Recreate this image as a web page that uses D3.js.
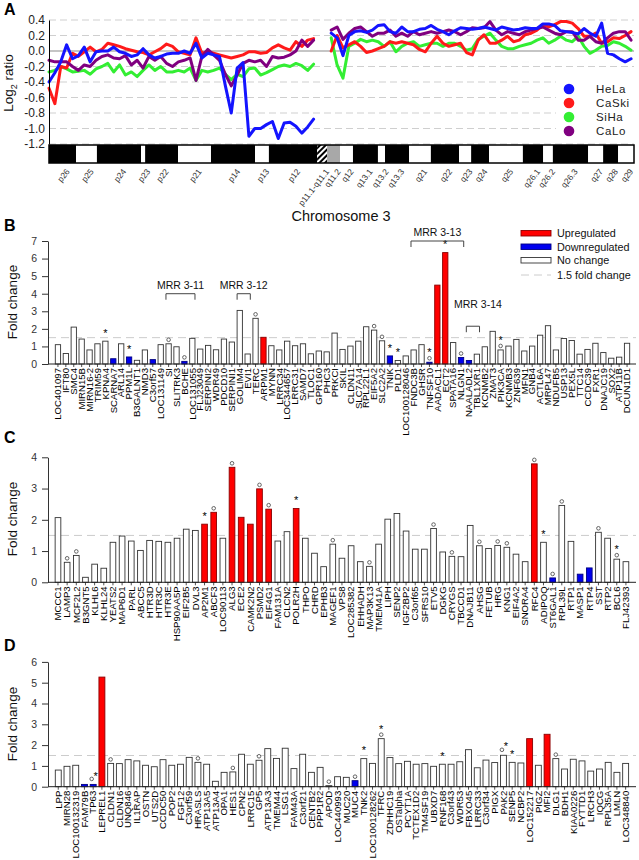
<!DOCTYPE html>
<html><head><meta charset="utf-8">
<script src="https://cdn.jsdelivr.net/npm/d3@7"></script>
<style>body{margin:0;background:#fff;}</style>
</head><body><script>
// ---------------- DATA ----------------
// Panel A: chromosome 3 array CGH, positions in Mb
const posMb = [0,2,4,6,8,10,12,14,16,18,20,22,24,26,28,30,32,34,36,38,40,42,44,46,48,50,52,54,56,58,60,62,64,66,68,70,72,74,76,78,80,82,84,86,88,90,92,94,96,98,100,102,104,106,108,110,112,114,116,118,120,122,124,126,128,130,132,134,136,138,140,142,144,146,148,150,152,154,156,158,160,162,164,166,168,170,172,174,176,178,180,182,184,186,188,190,192,194,196,198];
const hela = [-0.40,-0.28,-0.14,0.08,-0.10,-0.06,0.05,-0.14,-0.01,0.00,0.00,0.05,-0.01,-0.03,-0.07,-0.05,0.03,-0.05,-0.09,-0.07,-0.04,-0.03,-0.03,0.00,-0.03,0.10,-0.09,-0.03,-0.05,-0.07,-0.45,-0.80,-0.22,-0.15,-1.10,-1.00,-1.00,-0.95,-0.91,-1.13,-0.93,-0.92,-0.97,-1.06,-0.98,-0.88,null,null,0.23,0.17,-0.06,0.20,0.25,0.26,0.24,0.27,0.33,0.34,0.25,0.23,0.31,0.25,0.25,0.28,0.29,0.33,0.28,0.25,0.21,0.26,0.30,0.29,0.28,0.29,0.31,0.29,0.27,0.31,0.29,0.27,0.28,0.30,0.29,0.29,0.35,0.35,0.33,0.26,0.25,0.24,0.22,0.29,0.23,0.19,0.36,-0.03,-0.05,-0.10,-0.14,-0.10];
const caski = [-0.48,-0.68,-0.20,-0.22,-0.03,-0.07,-0.01,0.05,-0.01,0.02,0.10,0.08,0.06,0.03,0.01,-0.01,-0.02,-0.05,-0.01,0.03,0.09,0.06,-0.01,-0.03,-0.05,0.17,-0.03,-0.01,-0.03,-0.05,-0.07,-0.09,-0.07,-0.05,-0.01,-0.01,-0.03,-0.02,0.04,0.08,0.04,0.01,0.12,0.06,0.14,0.16,null,null,0.00,0.20,0.04,0.08,0.12,0.06,-0.02,0.00,0.03,0.06,0.12,0.10,0.12,0.10,0.08,0.02,-0.01,0.10,0.19,0.10,0.06,0.08,0.10,-0.02,-0.05,0.14,0.21,0.10,0.10,0.14,0.19,0.12,0.14,0.21,0.23,0.27,0.34,0.31,0.34,0.38,0.38,0.36,0.29,0.19,0.19,0.23,0.10,0.12,0.17,0.16,0.20,0.25];
const siha = [-0.27,-0.25,-0.20,-0.23,-0.27,-0.26,-0.25,-0.30,-0.23,-0.20,-0.16,-0.27,-0.18,-0.31,-0.27,-0.33,-0.25,-0.18,-0.25,-0.20,-0.27,-0.27,-0.25,-0.27,-0.22,-0.38,-0.25,-0.27,-0.25,-0.22,-0.30,-0.37,-0.30,-0.33,-0.23,-0.22,-0.31,-0.28,-0.24,-0.20,-0.18,-0.20,-0.16,-0.19,-0.25,-0.17,null,null,0.17,-0.18,-0.35,0.06,0.10,0.15,0.12,0.14,0.12,0.06,0.12,-0.01,0.06,0.10,0.12,0.06,0.08,0.10,0.10,0.06,0.10,0.10,0.06,0.01,0.03,0.15,0.19,0.23,0.14,0.06,0.03,0.03,0.06,0.08,0.10,0.14,0.17,0.10,0.14,0.19,0.14,0.12,0.19,0.06,-0.03,0.01,0.06,0.07,0.12,0.10,0.06,0.01];
const calo = [-0.12,-0.14,-0.14,-0.14,-0.20,-0.25,-0.18,-0.20,-0.12,-0.07,-0.05,-0.09,-0.10,-0.06,-0.18,-0.12,-0.22,-0.07,-0.12,-0.07,-0.16,-0.20,-0.14,-0.12,-0.09,-0.38,-0.07,0.02,-0.05,-0.12,-0.30,-0.45,-0.31,-0.16,-0.12,-0.14,-0.12,-0.20,-0.07,-0.09,-0.08,-0.05,0.00,0.14,0.06,0.14,null,null,0.27,0.31,0.15,0.23,0.29,0.31,0.25,0.19,0.23,0.23,0.27,0.19,0.23,0.19,0.25,0.21,0.23,0.25,0.23,0.25,0.27,0.25,0.21,0.25,0.30,0.29,0.30,0.38,0.27,0.21,0.25,0.23,0.21,0.25,0.27,0.29,0.31,0.27,0.23,0.21,0.25,0.25,0.14,0.14,0.19,0.12,0.10,0.17,0.23,0.25,0.25,0.14];
const cellLines = ["HeLa","CaSki","SiHa","CaLo"];
const ticksA = [0.4,0.2,0,-0.2,-0.4,-0.6,-0.8,-1.0,-1.2];
const bandNames = ["p26","p25","p24","p23","p22","p21","p14","p13","p12","p11.1-q11.1","q11.2","q12","q13.1","q13.2","q13.3","q21","q22","q23","q24","q25","q26.1","q26.2","q26.3","q27","q28","q29"];
const bandStart = [0,9.2,16.3,31.3,32.7,43.9,55.1,70.1,74.8,91.2,94.6,99.0,103.4,111.9,114.3,122.5,129.9,139.5,143.6,149.7,161.2,168.1,171.4,183.4,188.5,193.6];
const bandEnd   = [9.2,16.3,31.3,32.7,43.9,55.1,70.1,74.8,91.2,94.6,99.0,103.4,111.9,114.3,122.5,129.9,139.5,143.6,149.7,161.2,168.1,171.4,183.4,188.5,193.6,199];
const bandStain = ["gpos","gneg","gpos","gneg","gpos","gneg","gpos","gneg","gpos","acen","gvar","gneg","gpos","gneg","gpos","gneg","gpos","gneg","gpos","gneg","gpos","gneg","gpos","gneg","gpos","gneg"];

// Panel B
const genesB = ["LOC401097","IFT80","SMC4","MIRN15B","MIRN16-2","TRIM59","KPNA4","SCARNA7","ARL14","PPM1L","B3GALNT1","NMD3","C3orf57","LOC131149","SI","SLITRK3","BCHE","LOC131055","FLJ23049","SERPINI2","WDR49","PDCD10","SERPINI1","GOLIM4","EVI1","TERC","ARPM1","MYNN","LRRC34","LOC344657","LRRC31","SAMD7","TLOC1","GPR160","PHC3","PRKCI","SKIL","CLDN11","SLC7A14","RPL22L1","EIF5A2","SLC2A2","TNIK","PLD1","LOC100128046","FNDC3B","GHSR","TNFSF10","AADACL1","ECT2","SPATA16","NLGN1","NAALADL2","TBL1XR1","KCNMB2","ZMAT3","PIK3CA","KCNMB3","ZNF639","MFN1","GNB4","ACTL6A","MRPL47","NDUFB5","USP13","PEX5L","TTC14","CCDC39","FXR1","DNAJC19","SOX2","ATP11B","DCUN1D1"];
const foldB = [1.1,0.6,2.1,1.42,0.8,1.15,1.3,0.3,1.15,0.4,0.21,0.8,0.25,1.1,1.15,0.98,0.15,1.46,0.85,1.06,0.81,1.42,1.25,3.05,0.57,2.6,1.52,1.04,0.8,1.3,1.04,1.15,0.58,0.74,0.69,1.76,0.83,1.02,1.3,2.12,1.93,1.32,0.46,0.2,0.46,0.8,1.1,0.1,4.49,6.34,1.22,0.37,0.2,0.56,0.98,1.86,0.8,1.02,1.4,0.74,1.02,1.64,2.18,0.8,1.45,1.34,0.56,0.83,1.18,0.65,0.33,0.39,1.18];
const upB = ["ARPM1","AADACL1","ECT2"];
const downB = ["SCARNA7","PPM1L","C3orf57","BCHE","TNIK","TNFSF10","NLGN1","NAALADL2"];
const marksB = [["KPNA4","*"],["PPM1L","*"],["SI","o"],["BCHE","o"],["TERC","o"],["EIF5A2","o"],["SLC2A2","o"],["TNIK","*"],["PLD1","*"],["TNFSF10","o*"],["ECT2","*"],["NLGN1","o"],["PIK3CA","o*"]];
const mrrB = [["MRR 3-11","SI","LOC131055",4.0,0],["MRR 3-12","GOLIM4","EVI1",4.0,0],["MRR 3-13","FNDC3B","NLGN1",7.0,0],["MRR 3-14","NAALADL2","TBL1XR1",2.15,-13]];
const ticksB = [0,1,2,3,4,5,6,7];

// Panel C
const genesC = ["MCCC1","LAMP3","MCF2L2","B3GNT5","KLHL6","KLHL24","YEATS2","MAP6D1","PARL","ABCC5","HTR3D","HTR3C","HTR3E","HSP90AA5P","EIF2B5","DVL3","AP2M1","ABCF3","LOC90113","ALG3","ECE2","CAMK2N2","PSMD2","EIF4G1","FAM131A","CLCN2","POLR2H","THPO","CHRD","EPHB3","MAGEF1","VPS8","LOC285382","EHHADH","MAP3K13","TMEM41A","LIPH","SENP2","IGF2BP2","C3orf65","SFRS10","ETV5","DGKG","CRYGS","TBCCD1","DNAJB11","AHSG","FETUB","HRG","KNG1","EIF4A2","SNORA4","RFC4","ADIPOQ","ST6GAL1","RPL39L","RTP1","MASP1","RTP4","SST","RTP2","BCL6","FLJ42393"];
const foldC = [2.07,0.64,0.86,0.16,0.58,0.45,1.28,1.48,1.32,1.02,1.34,1.31,1.28,1.41,1.70,1.66,1.86,2.24,1.41,3.68,2.08,1.86,2.99,2.34,1.32,1.62,2.36,1.41,0.93,0.50,1.22,0.77,1.17,0.66,0.51,1.22,2.02,2.20,1.64,1.06,1.06,1.72,0.97,0.83,0.82,1.82,1.17,1.08,1.18,1.12,0.90,0.66,3.79,1.28,0.14,2.46,1.31,0.26,0.46,1.60,1.41,0.74,0.66];
const upC = ["AP2M1","ABCF3","ALG3","ECE2","CAMK2N2","PSMD2","EIF4G1","POLR2H","RFC4"];
const downC = ["ST6GAL1","MASP1","RTP4"];
const marksC = [["LAMP3","o"],["MCF2L2","o"],["AP2M1","*"],["ABCF3","o"],["ALG3","o"],["PSMD2","o"],["EIF4G1","o"],["POLR2H","*"],["MAGEF1","o"],["MAP3K13","o"],["ETV5","o"],["CRYGS","o"],["AHSG","o"],["HRG","o"],["KNG1","o"],["RFC4","o"],["ADIPOQ","*"],["ST6GAL1","o"],["RPL39L","o"],["SST","o"],["BCL6","o*"]];
const ticksC = [0,1,2,3,4];

// Panel D
const genesD = ["LPP","MIRN28","LOC100132319","FAM79B","TP63","LEPREL1","CLDN1","CLDN16","UNQ846","IL1RAP","OSTN","UTS2D","CCDC50","POP2","FGF12","C3orf59","HRASLS","ATP13A5","ATP13A4","OPA1","HES1","CPN2","LRRC15","GP5","ATP13A3","TMEM44","LSG1","FAM43A","C3orf21","CENTB2","PPP1R2","APOD","LOC440993","MUC20","MUC4","TNK2","LOC100128262","TFRC","ZDHHC19","OSTalpha","PCYT1A","TCTEX1D2","TM4SF19","UBXD7","RNF168","C3orf43","WDR53","FBXO45","LRRC33","C3orf34","PIGX","PAK2","SENP5","NCBP2","LOC152217","PIGZ","MFI2","DLG1","BDH1","KIAA0226","FYTTD1","LRCH3","IQCG","RPL35A","LMLN","LOC348840"];
const foldD = [0.80,0.98,1.03,0.11,0.11,5.27,1.12,1.11,1.30,1.24,1.03,0.96,1.30,1.03,1.08,1.41,1.17,1.08,0.26,0.69,0.71,1.56,1.08,1.27,1.83,1.36,1.85,0.87,1.56,0.69,0.93,0.05,0.48,0.45,0.29,1.35,1.12,2.31,1.40,1.11,1.22,1.08,1.11,0.98,1.08,1.08,1.20,1.78,0.91,1.28,1.16,1.51,1.17,1.14,2.31,1.03,2.52,1.35,0.85,1.32,1.24,0.75,0.85,1.17,0.69,1.12];
const upD = ["LEPREL1","LOC152217","MFI2"];
const downD = ["FAM79B","TP63","MUC4"];
const marksD = [["TP63","o|*"],["CLDN1","o"],["HRASLS","o"],["HES1","o"],["GP5","o"],["APOD","o"],["MUC4","o"],["TNK2","*"],["TFRC","o*"],["RNF168","*"],["PAK2","o|*"],["SENP5","*"],["DLG1","o"]];
const ticksD = [0,1,2,3,4,5,6];

const legendB = ["Upregulated","Downregulated","No change","1.5 fold change"];

// ---------------- DRAWING ----------------
const FONT = '"Liberation Sans", Arial, Helvetica, sans-serif';
const svg = d3.select("body").append("svg").attr("width",639).attr("height",860)
  .style("font-family",FONT);
svg.append("rect").attr("width",639).attr("height",860).attr("fill","#fff");
const defs = svg.append("defs");
const pat = defs.append("pattern").attr("id","hatch").attr("patternUnits","userSpaceOnUse")
  .attr("width",4).attr("height",4).attr("patternTransform","rotate(45)");
pat.append("rect").attr("width",4).attr("height",4).attr("fill","#fff");
pat.append("rect").attr("width",2).attr("height",4).attr("fill","#000");

const lineColors = {HeLa:"#1414ff",CaSki:"#ff1a1a",SiHa:"#33ee33",CaLo:"#800080"};
const seriesVals = {HeLa:hela,CaSki:caski,SiHa:siha,CaLo:calo};

// ---- Panel A ----
const xA = d3.scaleLinear().domain([0,199]).range([49,634]);
const yA = d3.scaleLinear().domain([-1.2,0.4]).range([144,20]);
const gA = svg.append("g");
gA.selectAll("line.grid").data(ticksA.filter(t=>t!==0)).join("line")
  .attr("x1",49).attr("x2",634).attr("y1",d=>yA(d)).attr("y2",d=>yA(d))
  .attr("stroke","#cfcfcf").attr("stroke-width",1).attr("stroke-dasharray","7,4");
gA.append("line").attr("x1",49).attr("x2",634).attr("y1",yA(0)).attr("y2",yA(0))
  .attr("stroke","#8c8c8c").attr("stroke-width",1.2);

const lineGen = d3.line().defined(d=>d[1]!==null).x(d=>xA(d[0])).y(d=>yA(d[1])).curve(d3.curveLinear);
["SiHa","CaSki","CaLo","HeLa"].forEach(name=>{
  const pts = posMb.map((p,i)=>[p,seriesVals[name][i]]);
  gA.append("path").datum(pts).attr("d",lineGen).attr("fill","none")
    .attr("stroke",lineColors[name]).attr("stroke-width",3)
    .attr("stroke-linejoin","round").attr("stroke-linecap","round");
});

// legend A
gA.append("rect").attr("x",556).attr("y",78).attr("width",78).attr("height",64).attr("fill","#fff");
cellLines.forEach((n,i)=>{
  const cy = 89 + i*14;
  gA.append("circle").attr("cx",569).attr("cy",cy).attr("r",5.3).attr("fill",lineColors[n]);
  gA.append("text").attr("x",596).attr("y",cy+4).attr("font-size",11.5).attr("fill","#222")
    .attr("letter-spacing","0.6").text(n);
});

// axis A
const axA = gA.append("g").attr("transform","translate(49,0)")
  .call(d3.axisLeft(yA).tickValues(ticksA).tickSize(0).tickSizeOuter(0).tickPadding(4).tickFormat(d=>d.toFixed(1)));
axA.selectAll("text").attr("font-size",12).attr("font-family",FONT).attr("fill","#222");
axA.select(".domain").attr("stroke","#000");
gA.append("text").attr("transform","translate(13,83) rotate(-90)").attr("text-anchor","middle")
  .attr("font-size",13.5).attr("fill","#111")
  .call(t=>{t.append("tspan").text("Log");t.append("tspan").attr("font-size",9).attr("dy",4).text("2");t.append("tspan").attr("dy",-4).text(" ratio");});
svg.append("text").attr("x",4).attr("y",15).attr("font-size",16).attr("font-weight","bold").text("A");

// ideogram
const bands = bandNames.map((n,i)=>({name:n,s:bandStart[i],e:bandEnd[i],stain:bandStain[i]}));
const stainFill = {gpos:"#000",gneg:"#fff",gvar:"#a8a8a8",acen:"url(#hatch)"};
gA.selectAll("rect.band").data(bands).join("rect")
  .attr("x",d=>xA(d.s)).attr("width",d=>xA(d.e)-xA(d.s)).attr("y",145).attr("height",18)
  .attr("fill",d=>stainFill[d.stain]);
gA.append("rect").attr("x",xA(0)).attr("y",145).attr("width",xA(199)-xA(0)).attr("height",18)
  .attr("fill","none").attr("stroke","#000").attr("stroke-width",1.5);
gA.selectAll("text.bl").data(bands).join("text")
  .attr("transform",d=>`translate(${xA((d.s+d.e)/2)+3},168) rotate(-52)`)
  .attr("text-anchor","end").attr("dy","0.7em").attr("font-size",8.5).attr("fill","#333").text(d=>d.name);

// ---- bar panels ----
const colUp="#ff0000", colDown="#0000ee";
function barPanel(o){
  const g = svg.append("g");
  const x = d3.scaleBand().domain(o.genes).range(o.xr).paddingInner(o.pad).paddingOuter(o.pad/2);
  const y = d3.scaleLinear().domain([0,o.ymax]).range([o.y0,o.ytop]);
  const bw = x.bandwidth();
  const vmap = new Map(o.genes.map((gname,i)=>[gname,o.vals[i]]));
  g.append("line").attr("x1",48).attr("x2",636).attr("y1",y(1.5)).attr("y2",y(1.5))
    .attr("stroke","#cccccc").attr("stroke-width",1).attr("stroke-dasharray","8,5");
  g.selectAll("rect.bar").data(o.genes).join("rect")
    .attr("x",d=>x(d)).attr("width",bw)
    .attr("y",d=>y(vmap.get(d))).attr("height",d=>o.y0-y(vmap.get(d)))
    .attr("fill",d=>o.up.includes(d)?colUp:(o.down.includes(d)?colDown:"#fff"))
    .attr("stroke",d=>o.up.includes(d)?"#8a0000":(o.down.includes(d)?"#000080":"#333"))
    .attr("stroke-width",0.9);
  g.append("line").attr("x1",48).attr("x2",636).attr("y1",o.y0).attr("y2",o.y0).attr("stroke","#222").attr("stroke-width",1);
  g.selectAll("line.xt").data(o.genes).join("line")
    .attr("x1",d=>x(d)+bw/2).attr("x2",d=>x(d)+bw/2).attr("y1",o.y0).attr("y2",o.y0+3)
    .attr("stroke","#222").attr("stroke-width",0.8);
  g.selectAll("text.xl").data(o.genes).join("text")
    .attr("transform",d=>`translate(${x(d)+bw/2},${o.y0+4}) rotate(-90)`)
    .attr("text-anchor","end").attr("dy","0.34em").attr("font-size",9.6).attr("fill","#000").text(d=>d);
  const ay = g.append("g").attr("transform","translate(48,0)")
    .call(d3.axisLeft(y).tickValues(o.ticks).tickSize(6).tickSizeOuter(0).tickPadding(5).tickFormat(d3.format("d")));
  ay.selectAll("text").attr("font-size",10.5).attr("font-family",FONT).attr("fill","#333");
  ay.selectAll("line").attr("stroke","#333");
  ay.select(".domain").attr("stroke","#333");
  g.append("text").attr("transform",`translate(17,${o.labelY}) rotate(-90)`).attr("text-anchor","middle")
    .attr("font-size",13.5).attr("fill","#111").text("Fold change");
  svg.append("text").attr("x",4).attr("y",o.letterY).attr("font-size",16).attr("font-weight","bold").text(o.letter);
  o.marks.forEach(([gname,type])=>{
    const cx = x(gname)+bw/2, top = y(vmap.get(gname));
    const circ = (cxx,cyy)=>g.append("circle").attr("cx",cxx).attr("cy",cyy).attr("r",1.8)
      .attr("fill","#fff").attr("stroke","#555").attr("stroke-width",0.9);
    const star = (sx,cyy)=>g.append("text").attr("x",sx).attr("y",cyy+5.2).attr("text-anchor","middle")
      .attr("font-size",11).attr("fill","#000").text("*");
    if(type==="o") circ(cx,top-4);
    else if(type==="*") star(cx,top-9.5);
    else if(type==="o*"){ circ(cx,top-4); star(cx,top-11); }
    else if(type==="o|*"){ circ(cx-1.5,top-5.5); star(cx+2.5,top-10); }
  });
  return {g,x,y,bw};
}

const pB = barPanel({genes:genesB,vals:foldB,up:upB,down:downB,marks:marksB,ymax:7,y0:364,ytop:241,
  xr:[54,631],pad:0.33,ticks:ticksB,labelY:302,letter:"B",letterY:231});
const pC = barPanel({genes:genesC,vals:foldC,up:upC,down:downC,marks:marksC,ymax:4,y0:582.3,ytop:457.3,
  xr:[53.4,630.5],pad:0.38,ticks:ticksC,labelY:519,letter:"C",letterY:443});
const pD = barPanel({genes:genesD,vals:foldD,up:upD,down:downD,marks:marksD,ymax:6,y0:786.7,ytop:661.9,
  xr:[53.9,630],pad:0.32,ticks:ticksD,labelY:724,letter:"D",letterY:651});

svg.append("text").attr("x",341).attr("y",221).attr("text-anchor","middle").attr("font-size",14.5).attr("fill","#111").text("Chromosome 3");

mrrB.forEach(([lab,g1,g2,lvl,dy])=>{
  const x1 = pB.x(g1), x2 = pB.x(g2)+pB.bw, yb = pB.y(lvl);
  pB.g.append("path").attr("d",`M${x1},${yb+6}V${yb}H${x2}V${yb+6}`).attr("fill","none").attr("stroke","#444").attr("stroke-width",1);
  pB.g.append("text").attr("x",(x1+x2)/2 + (dy?5:0)).attr("y",yb-5+dy).attr("text-anchor","middle")
    .attr("font-size",10.5).attr("fill","#111").text(lab);
});

const lgB = svg.append("g");
const lgY = [233.5,247,260.5,275];
legendB.forEach((t,i)=>{
  if(i<3){
    lgB.append("rect").attr("x",521).attr("y",lgY[i]-3).attr("width",30).attr("height",5.5)
      .attr("fill",i===0?colUp:(i===1?colDown:"#fff")).attr("stroke",i===0?"#8a0000":(i===1?"#000080":"#333")).attr("stroke-width",0.9);
  } else {
    lgB.append("line").attr("x1",521).attr("x2",551).attr("y1",lgY[i]).attr("y2",lgY[i])
      .attr("stroke","#cccccc").attr("stroke-dasharray","8,5");
  }
  lgB.append("text").attr("x",557).attr("y",lgY[i]+3.8).attr("font-size",10.8).attr("fill","#111").text(t);
});
</script></body></html>
